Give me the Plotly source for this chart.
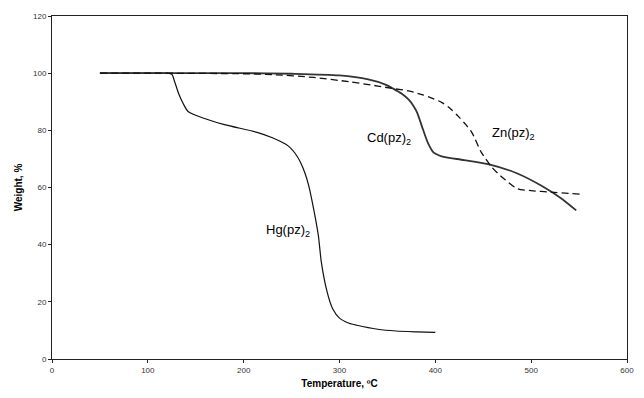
import plotly.graph_objects as go

# Thermogravimetric curves of the pyrazolate complexes
hg_temp = [50, 100, 120, 125, 128, 132, 137, 142, 156, 180, 214, 230, 238, 244, 249,
           254, 259, 264, 268, 273, 278, 281, 287, 293, 300, 310, 318, 340, 359, 380, 400]
hg_weight = [100, 100, 100, 99.6, 97, 93, 89.3, 86.6, 84.5, 82, 79.3, 77.4, 76.2, 75.1, 73.8,
             71.8, 69, 65, 60.5, 52.5, 43, 34, 23.6, 17.5, 14.3, 12.5, 11.8, 10.4, 9.8, 9.5, 9.3]

cd_temp = [50, 100, 200, 250, 300, 330, 348, 356, 365, 372, 377, 381, 386, 392, 398,
           404, 410, 430, 455, 485, 513, 530, 547]
cd_weight = [100, 100, 100, 99.8, 99.2, 97.8, 96, 94.6, 92.8, 90.8, 88.6, 86.2, 81.4,
             75.8, 72.3, 71.2, 70.6, 69.6, 68.2, 65, 60.2, 56.5, 52]

zn_temp = [50, 100, 200, 230, 273, 310, 340, 356, 372, 386, 397, 407, 416, 424, 431,
           438, 448, 458, 465, 472, 486, 500, 520, 551]
zn_weight = [100, 100, 99.8, 99.5, 98.5, 97, 95.5, 94.6, 93.8, 92.5, 91.2, 89.7, 87.5,
             84.9, 82.3, 79.3, 72.3, 67.5, 65, 63, 59.5, 58.9, 58.4, 57.7]

x_ticks = [0, 100, 200, 300, 400, 500, 600]
y_ticks = [0, 20, 40, 60, 80, 100, 120]

# curve labels: (text, temperature, weight)
labels = [
    ("Hg(pz)<sub>2</sub>", 246, 45),
    ("Cd(pz)<sub>2</sub>", 352, 77),
    ("Zn(pz)<sub>2</sub>", 482, 79),
]

fig = go.Figure()
fig.add_trace(go.Scatter(x=hg_temp, y=hg_weight, mode="lines",
                         line=dict(color="#111111", width=1.2, shape="spline", smoothing=0.7)))
fig.add_trace(go.Scatter(x=cd_temp, y=cd_weight, mode="lines",
                         line=dict(color="#333333", width=1.8, shape="spline", smoothing=0.7)))
fig.add_trace(go.Scatter(x=zn_temp, y=zn_weight, mode="lines",
                         line=dict(color="#111111", width=1.3, dash="7px,4px",
                                   shape="spline", smoothing=0.7)))

for text, tx, wy in labels:
    fig.add_annotation(x=tx, y=wy, text=text, showarrow=False,
                       font=dict(family="Liberation Sans, Arial", size=13, color="#000000"))

axis_common = dict(
    showgrid=False, zeroline=False, showline=True, linecolor="#222222", linewidth=1,
    mirror=True, ticks="outside", ticklen=3, tickcolor="#222222",
    tickfont=dict(family="Liberation Sans, Arial", size=8, color="#333333"),
)

fig.update_xaxes(range=[0, 600], tickvals=x_ticks,
                 title=dict(text="<b>Temperature, ºC</b>", standoff=6,
                            font=dict(family="Liberation Sans, Arial", size=10, color="#000000")),
                 **axis_common)
fig.update_yaxes(range=[0, 120], tickvals=y_ticks,
                 title=dict(text="<b>Weight, %</b>", standoff=8,
                            font=dict(family="Liberation Sans, Arial", size=10, color="#000000")),
                 **axis_common)

fig.update_layout(
    width=644, height=398,
    margin=dict(l=52, r=10, t=16, b=37),
    paper_bgcolor="white", plot_bgcolor="white",
    showlegend=False,
)

fig.write_html("out.html")
